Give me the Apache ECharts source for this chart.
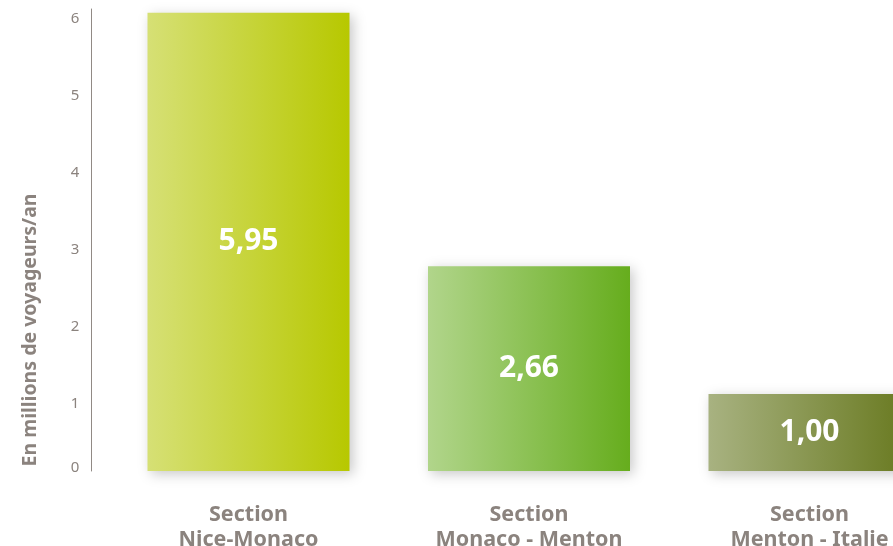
<!DOCTYPE html>
<html>
<head>
<meta charset="utf-8">
<script src="https://cdn.jsdelivr.net/npm/echarts@6/dist/echarts.min.js"></script>
<style>
html,body{margin:0;padding:0;background:#fff;}
#c{width:893px;height:546px;}
</style>
</head>
<body>
<div id="c"></div>
<script>
var categories = ['Section\nNice-Monaco', 'Section\nMonaco - Menton', 'Section\nMenton - Italie'];
var values = [5.95, 2.66, 1.00];
var axisTitle = 'En millions de voyageurs/an';

var gradients = [
  ['#d6e075', '#b7c800'],
  ['#b1d58b', '#66ad1d'],
  ['#a8b281', '#68791f']
];
var FONT = '"Noto Sans", sans-serif';
var GREY = '#8b837e';

var chart = echarts.init(document.getElementById('c'), null, {renderer: 'canvas'});
chart.setOption({
  animation: false,
  backgroundColor: '#ffffff',
  grid: {left: 108.25, right: -56.75, top: 9, bottom: 75, containLabel: false, outerBoundsMode: 'none'},
  xAxis: {
    type: 'category',
    data: categories,
    axisLine: {show: false},
    axisTick: {show: false},
    axisLabel: {
      margin: 31,
      color: GREY,
      fontFamily: FONT,
      fontWeight: 'bold',
      fontSize: 21.5,
      lineHeight: 25,
      interval: 0
    }
  },
  yAxis: {
    type: 'value',
    min: 0,
    max: 6,
    interval: 1,
    offset: 17,
    splitLine: {show: false},
    axisTick: {show: false},
    axisLine: {show: true, lineStyle: {color: '#918a85', width: 1}},
    axisLabel: {
      margin: 12,
      color: GREY,
      fontFamily: FONT,
      fontSize: 15,
      formatter: function (v) { return v === 0 ? '{z|0}' : '{n|' + v + '}'; },
      rich: {
        n: {padding: [20, 0, 0, 0], color: GREY, fontFamily: FONT, fontSize: 15},
        z: {padding: [0, 0, 6, 0], color: GREY, fontFamily: FONT, fontSize: 15}
      }
    },
    name: axisTitle,
    nameLocation: 'middle',
    nameGap: 51,
    nameRotate: 90,
    nameTextStyle: {
      color: GREY,
      fontFamily: FONT,
      fontWeight: 'bold',
      fontSize: 19.5,
      padding: [0, 180, 0, 0]
    }
  },
  series: [{
    type: 'bar',
    barWidth: 202,
    data: values.map(function (v, i) {
      return {
        value: v,
        itemStyle: {
          color: new echarts.graphic.LinearGradient(0, 0, 1, 0, [
            {offset: 0, color: gradients[i][0]},
            {offset: 1, color: gradients[i][1]}
          ]),
          shadowBlur: 12,
          shadowColor: 'rgba(0,0,0,0.22)',
          shadowOffsetX: 3,
          shadowOffsetY: 3
        }
      };
    }),
    label: {
      show: true,
      position: 'inside',
      color: '#ffffff',
      fontFamily: FONT,
      fontWeight: 'bold',
      fontSize: 30,
      formatter: function (p) { return p.value.toFixed(2).replace('.', ','); }
    }
  }]
});
</script>
</body>
</html>
